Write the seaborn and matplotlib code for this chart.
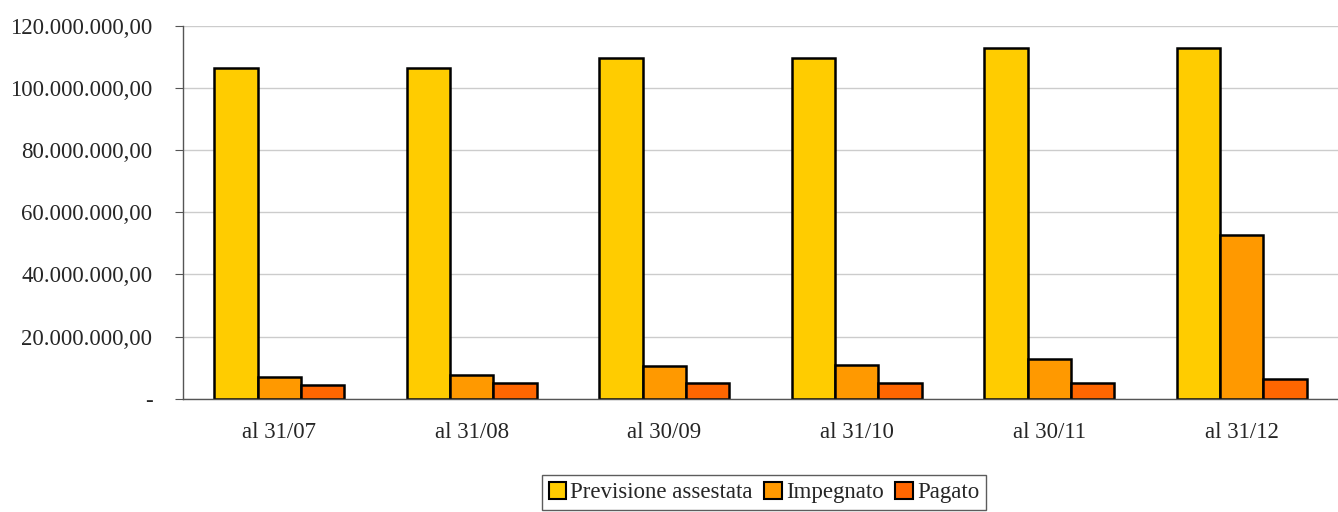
import numpy as np
import pandas as pd
import matplotlib
matplotlib.use("Agg")
import matplotlib.pyplot as plt
import seaborn as sns
from matplotlib.patches import Patch

categories = ["al 31/07", "al 31/08", "al 30/09", "al 31/10", "al 30/11", "al 31/12"]
series_names = ["Previsione assestata", "Impegnato", "Pagato"]
previsione = [106.4e6, 106.4e6, 109.6e6, 109.6e6, 112.9e6, 112.9e6]
impegnato = [7.0e6, 7.7e6, 10.4e6, 11.0e6, 12.9e6, 52.8e6]
pagato = [4.4e6, 5.2e6, 5.2e6, 5.2e6, 5.2e6, 6.3e6]
colors = ["#FFCC00", "#FF9900", "#FF6600"]
yticks = [0, 20e6, 40e6, 60e6, 80e6, 100e6, 120e6]

rows = []
for name, vals in zip(series_names, [previsione, impegnato, pagato]):
    for c, v in zip(categories, vals):
        rows.append({"cat": c, "series": name, "val": v})
df = pd.DataFrame(rows)

sns.set_style("white")
plt.rcParams["font.family"] = ["Liberation Serif", "DejaVu Serif"]
FS = 16.5

fig = plt.figure(figsize=(13.38, 5.12), dpi=100)
ax = fig.add_axes([183 / 1338, 1 - 398.7 / 512, 1 - 183 / 1338, (398.7 - 26) / 512])

sns.barplot(data=df, x="cat", y="val", hue="series", palette=colors,
            order=categories, hue_order=series_names, width=0.675, gap=0,
            edgecolor="black", linewidth=1.8, saturation=1, ax=ax, legend=False)

ax.set_xlim(-0.5, 5.5)
ax.set_ylim(0, 120e6)
ax.set_yticks(yticks)


def fmt(v):
    if v == 0:
        return "-"
    s = f"{v:,.2f}"
    return s.replace(",", "X").replace(".", ",").replace("X", ".")


ax.set_yticklabels([fmt(v) for v in yticks], fontsize=FS)
ax.yaxis.grid(True, color="#cccccc", linewidth=1)
ax.set_axisbelow(True)
ax.set_xticks(range(len(categories)))
ax.set_xticklabels(categories, fontsize=FS)
ax.tick_params(axis="x", which="major", length=0, pad=17)
ax.set_xticks(np.arange(-0.5, 6.0, 1), minor=True)
ax.tick_params(axis="x", which="minor", length=6, color="#555555", direction="out")
ax.tick_params(axis="y", length=6, color="#555555", direction="out", left=True, pad=16)
ax.set_xlabel("")
ax.set_ylabel("")
for s in ["top", "right"]:
    ax.spines[s].set_visible(False)
for s in ["left", "bottom"]:
    ax.spines[s].set_color("#555555")
    ax.spines[s].set_linewidth(1)

handles = [Patch(facecolor=c, edgecolor="black", linewidth=1.5) for c in colors]
leg = fig.legend(handles, series_names, loc="upper center", bbox_to_anchor=(764 / 1338, 1 - 475 / 512),
                 ncol=3, fontsize=FS, frameon=True, fancybox=False, handlelength=0.75, handleheight=0.75,
                 handletextpad=0.2, columnspacing=0.5, borderpad=0.3, borderaxespad=0)
leg.get_frame().set_edgecolor("#333333")
leg.get_frame().set_linewidth(1)

fig.savefig("out.png", dpi=100)
